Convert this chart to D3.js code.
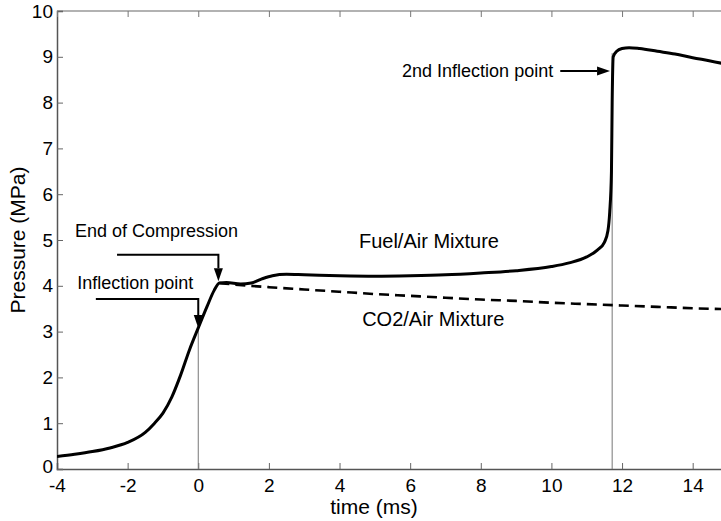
<!DOCTYPE html>
<html>
<head>
<meta charset="utf-8">
<script src="https://cdn.jsdelivr.net/npm/d3@7"></script>
<style>
  body { margin: 0; background: #fff; }
  svg { display: block; font-family: "Liberation Sans", Arial, sans-serif; }
</style>
</head>
<body>
<svg id="chart" width="721" height="521"></svg>
<script>
// fuel/air run (solid)
const fuelTime = [-4, -3.5, -3, -2.5, -2, -1.5, -1.25, -1, -0.75, -0.5, -0.25, 0, 0.25, 0.45, 0.6, 0.8, 1.2, 1.5, 1.8, 2.1, 2.5, 3, 4, 5, 6, 7, 8, 9, 10, 10.5, 11, 11.3, 11.5, 11.6, 11.65, 11.7, 11.72, 11.75, 11.85, 12, 12.2, 12.5, 13, 13.5, 14, 14.5, 15];
const fuelPressure = [0.27, 0.32, 0.38, 0.46, 0.58, 0.8, 0.99, 1.22, 1.57, 2.05, 2.6, 3.08, 3.55, 3.9, 4.06, 4.07, 4.04, 4.06, 4.15, 4.22, 4.25, 4.24, 4.22, 4.21, 4.22, 4.24, 4.28, 4.33, 4.42, 4.5, 4.63, 4.78, 4.95, 5.2, 5.6, 6.5, 8.0, 9.0, 9.12, 9.18, 9.2, 9.18, 9.12, 9.06, 8.98, 8.91, 8.83];

// co2/air run (dashed), splits off after end of compression
const co2Time = [0.6, 1, 2, 3, 4, 5, 6, 7, 8, 9, 10, 11, 12, 13, 14, 15];
const co2Pressure = [4.06, 4.03, 3.97, 3.92, 3.87, 3.82, 3.78, 3.74, 3.7, 3.67, 3.63, 3.6, 3.57, 3.54, 3.51, 3.49];

const xTicks = [-4, -2, 0, 2, 4, 6, 8, 10, 12, 14];
const yTicks = [0, 1, 2, 3, 4, 5, 6, 7, 8, 9, 10];

// markers (vertical thin lines)
const markerTimes = [0, 11.72];
const markerPressures = [3.08, 9.08];

const svg = d3.select("#chart");
const margin = { top: 11, left: 57 };
const plotW = 671;  // runs past the right edge of the picture
const plotH = 458;

const x = d3.scaleLinear().domain([-4, 15]).range([margin.left, margin.left + plotW]);
const y = d3.scaleLinear().domain([0, 10]).range([margin.top + plotH, margin.top]);

// top edge of box
svg.append("line")
  .attr("x1", x(-4)).attr("x2", x(15))
  .attr("y1", y(10)).attr("y2", y(10))
  .attr("stroke", "#999").attr("stroke-width", 1.5);

const xAxis = svg.append("g")
  .attr("transform", "translate(0," + y(0) + ")")
  .call(d3.axisBottom(x).tickValues(xTicks).tickSize(-6).tickPadding(10).tickFormat(d => String(d)));
const yAxis = svg.append("g")
  .attr("transform", "translate(" + x(-4) + ",0)")
  .call(d3.axisLeft(y).tickValues(yTicks).tickSize(-6).tickPadding(4).tickFormat(d => String(d)));

// top ticks
svg.append("g")
  .attr("transform", "translate(0," + y(10) + ")")
  .call(d3.axisTop(x).tickValues(xTicks).tickSize(-6).tickFormat(""))
  .call(g => g.select(".domain").remove())
  .selectAll("line").attr("stroke", "#777");

[xAxis, yAxis].forEach(g => {
  g.select(".domain").attr("stroke", "#555").attr("stroke-width", 1.5);
  g.selectAll(".tick line").attr("stroke", "#666");
  g.selectAll("text").attr("fill", "#000").style("font-size", "19px").style("font-family", "Liberation Sans, Arial, sans-serif");
});
// lift the "0" a touch so it clears the "-4" below it
yAxis.selectAll(".tick").filter(d => d === 0).select("text").attr("dy", "0.2em");

// thin vertical marker lines
markerTimes.forEach((t, i) => {
  svg.append("line")
    .attr("x1", x(t)).attr("x2", x(t))
    .attr("y1", y(markerPressures[i])).attr("y2", y(0))
    .attr("stroke", "#777").attr("stroke-width", 1);
});

svg.append("defs").append("clipPath").attr("id", "clip")
  .append("rect").attr("x", x(-4)).attr("y", y(10)).attr("width", plotW).attr("height", plotH);

const body = svg.append("g").attr("clip-path", "url(#clip)");

const line = d3.line()
  .x(d => x(d[0]))
  .y(d => y(d[1]))
  .curve(d3.curveMonotoneX);

body.append("path")
  .datum(co2Time.map((t, i) => [t, co2Pressure[i]]))
  .attr("fill", "none")
  .attr("stroke", "#000")
  .attr("stroke-width", 2.6)
  .attr("stroke-dasharray", "10,6")
  .attr("d", line);

body.append("path")
  .datum(fuelTime.map((t, i) => [t, fuelPressure[i]]))
  .attr("fill", "none")
  .attr("stroke", "#000")
  .attr("stroke-width", 3)
  .attr("stroke-linejoin", "round")
  .attr("d", line);

// annotation arrows, in data units: path points, last point is the tip
const arrows = [
  [[-2.3, 4.68], [0.57, 4.68], [0.57, 4.1]],
  [[-2.9, 3.71], [0.0, 3.71], [0.0, 3.08]],
  [[10.25, 8.69], [11.66, 8.69]]
];

arrows.forEach(pts => {
  const p = pts.map(d => [x(d[0]), y(d[1])]);
  const tip = p[p.length - 1];
  const prev = p[p.length - 2];
  const ang = Math.atan2(tip[1] - prev[1], tip[0] - prev[0]);
  const len = 13, half = 4.5;
  const base = [tip[0] - len * Math.cos(ang), tip[1] - len * Math.sin(ang)];
  const shaft = p.slice(0, -1).concat([base]);
  svg.append("path")
    .attr("d", d3.line()(shaft))
    .attr("fill", "none").attr("stroke", "#000").attr("stroke-width", 2);
  const left = [base[0] + half * Math.sin(ang), base[1] - half * Math.cos(ang)];
  const right = [base[0] - half * Math.sin(ang), base[1] + half * Math.cos(ang)];
  svg.append("path")
    .attr("d", "M" + tip + "L" + left + "L" + right + "Z")
    .attr("fill", "#000");
});

const labels = [
  { text: "End of Compression", t: -3.49, p: 5.07, anchor: "start", size: 18 },
  { text: "Inflection point", t: -3.43, p: 3.93, anchor: "start", size: 18 },
  { text: "2nd Inflection point", t: 10.05, p: 8.56, anchor: "end", size: 18 },
  { text: "Fuel/Air Mixture", t: 4.55, p: 4.83, anchor: "start", size: 20 },
  { text: "CO2/Air Mixture", t: 4.64, p: 3.12, anchor: "start", size: 20 }
];

svg.selectAll("text.note")
  .data(labels)
  .join("text")
  .attr("class", "note")
  .attr("x", d => x(d.t))
  .attr("y", d => y(d.p))
  .attr("text-anchor", d => d.anchor)
  .style("font-size", d => d.size + "px")
  .text(d => d.text);

svg.append("text")
  .attr("x", 374).attr("y", 514)
  .attr("text-anchor", "middle")
  .style("font-size", "21px")
  .text("time (ms)");

svg.append("text")
  .attr("transform", "translate(25," + y(5) + ") rotate(-90)")
  .attr("text-anchor", "middle")
  .style("font-size", "21px")
  .text("Pressure (MPa)");
</script>
</body>
</html>
